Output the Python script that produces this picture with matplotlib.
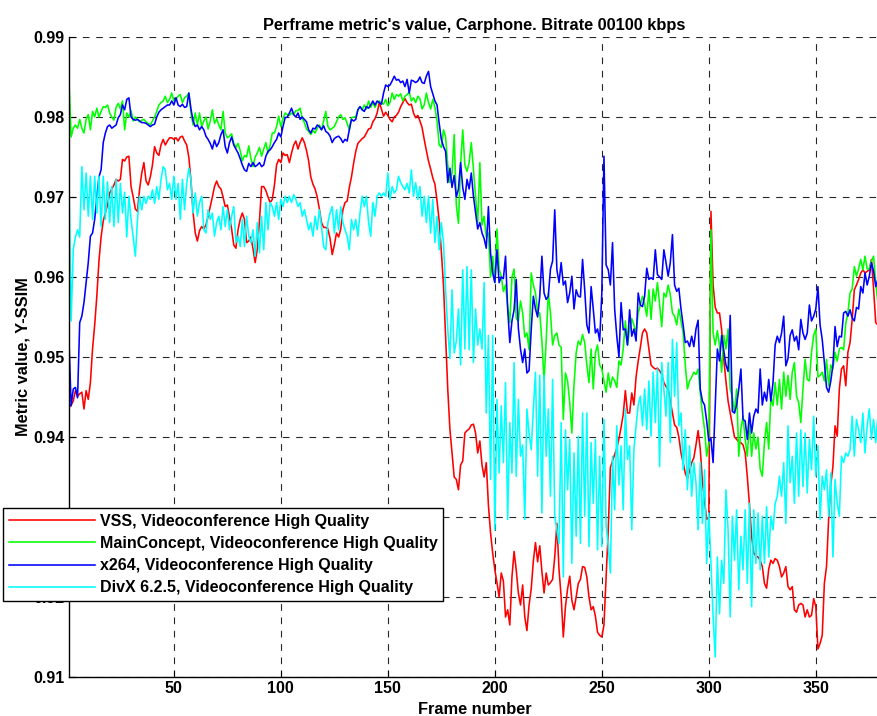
import numpy as np
import matplotlib
matplotlib.use('Agg')
import matplotlib.pyplot as plt

# per-frame Y-SSIM values, frames 1..380
vss = [
    .9437, .9440, .9445, .9458, .9451, .9454, .9456, .9435, .9458, .9447,
    .9468, .9510, .9540, .9576, .9620, .9650, .9670, .9680, .9690, .9705,
    .9710, .9715, .9722, .9720, .9722, .9747, .9745, .9750, .9751, .9713,
    .9700, .9685, .9682, .9710, .9730, .9743, .9720, .9715, .9725, .9740,
    .9763, .9755, .9752, .9765, .9772, .9765, .9770, .9774, .9774, .9772,
    .9774, .9770, .9775, .9776, .9770, .9765, .9750, .9720, .9680, .9655,
    .9645, .9658, .9663, .9660, .9665, .9676, .9688, .9700, .9713, .9720,
    .9713, .9710, .9700, .9688, .9690, .9675, .9660, .9640, .9636, .9659,
    .9672, .9680, .9672, .9643, .9645, .9650, .9635, .9618, .9635, .9670,
    .9713, .9713, .9708, .9700, .9693, .9697, .9715, .9740, .9747, .9743,
    .9755, .9752, .9753, .9743, .9755, .9765, .9770, .9760, .9768, .9774,
    .9768, .9758, .9745, .9725, .9716, .9710, .9700, .9685, .9668, .9662,
    .9662, .9660, .9648, .9628, .9640, .9655, .9650, .9660, .9684, .9693,
    .9695, .9712, .9725, .9742, .9757, .9767, .9770, .9773, .9775, .9780,
    .9785, .9786, .9794, .9798, .9805, .9818, .9810, .9801, .9806, .9802,
    .9797, .9794, .9800, .9802, .9806, .9813, .9818, .9823, .9818, .9815,
    .9816, .9805, .9799, .9802, .9795, .9787, .9772, .9758, .9745, .9735,
    .9724, .9716, .9695, .9670, .9632, .9590, .9525, .9460, .9410, .9380,
    .9350, .9347, .9334, .9365, .9370, .9405, .9408, .9410, .9415, .9416,
    .9405, .9380, .9395, .9365, .9350, .9368, .9315, .9280, .9255, .9234,
    .9218, .9200, .9230, .9220, .9175, .9184, .9165, .9225, .9257, .9234,
    .9205, .9190, .9215, .9175, .9158, .9190, .9210, .9245, .9268, .9244,
    .9264, .9232, .9205, .9230, .9215, .9218, .9222, .9250, .9292, .9234,
    .9200, .9150, .9188, .9210, .9226, .9196, .9184, .9200, .9217, .9222,
    .9238, .9237, .9225, .9200, .9184, .9188, .9176, .9156, .9152, .9150,
    .9165, .9225, .9284, .9362, .9370, .9378, .9386, .9398, .9412, .9428,
    .9458, .9430, .9430, .9455, .9440, .9475, .9495, .9512, .9530, .9535,
    .9530, .9510, .9490, .9487, .9485, .9486, .9483, .9478, .9468, .9463,
    .9460, .9445, .9430, .9415, .9412, .9400, .9380, .9368, .9355, .9348,
    .9358, .9368, .9374, .9390, .9408, .9385, .9345, .9320, .9297, .9300,
    .9682, .9590, .9562, .9555, .9555, .9534, .9497, .9470, .9445, .9430,
    .9415, .9400, .9397, .9394, .9393, .9390, .9380, .9350, .9315, .9276,
    .9255, .9251, .9250, .9246, .9238, .9217, .9211, .9235, .9246, .9242,
    .9248, .9246, .9238, .9225, .9230, .9238, .9213, .9209, .9213, .9184,
    .9181, .9190, .9192, .9190, .9175, .9184, .9175, .9177, .9198, .9188,
    .9135, .9142, .9152, .9217, .9238, .9297, .9340, .9363, .9414, .9401,
    .9460, .9485, .9489, .9464, .9506, .9518, .9547, .9584, .9590, .9597,
    .9605, .9609, .9605, .9607, .9609, .9622, .9585, .9543, .9540, .9540,
]

mainconcept = [
    .9845, .9775, .9786, .9790, .9786, .9797, .9786, .9780, .9797, .9803,
    .9784, .9807, .9800, .9811, .9800, .9807, .9813, .9812, .9815, .9805,
    .9800, .9796, .9812, .9817, .9810, .9820, .9784, .9805, .9800, .9808,
    .9795, .9800, .9797, .9794, .9796, .9797, .9794, .9792, .9790, .9795,
    .9800, .9807, .9815, .9818, .9820, .9826, .9818, .9822, .9830, .9820,
    .9822, .9826, .9828, .9818, .9824, .9826, .9830, .9805, .9790, .9805,
    .9790, .9805, .9788, .9795, .9800, .9785, .9795, .9809, .9792, .9798,
    .9790, .9784, .9807, .9780, .9774, .9776, .9779, .9767, .9762, .9767,
    .9758, .9745, .9752, .9750, .9764, .9748, .9738, .9750, .9755, .9762,
    .9751, .9760, .9768, .9755, .9765, .9780, .9780, .9788, .9801, .9788,
    .9798, .9805, .9803, .9802, .9805, .9803, .9808, .9808, .9811, .9798,
    .9793, .9785, .9782, .9778, .9783, .9780, .9786, .9790, .9784, .9795,
    .9807, .9788, .9784, .9786, .9788, .9794, .9800, .9803, .9797, .9799,
    .9792, .9784, .9799, .9800, .9800, .9809, .9813, .9809, .9815, .9810,
    .9820, .9812, .9818, .9812, .9818, .9820, .9818, .9816, .9822, .9814,
    .9818, .9830, .9822, .9828, .9826, .9829, .9820, .9826, .9828, .9831,
    .9820, .9824, .9818, .9826, .9823, .9810, .9815, .9830, .9818, .9810,
    .9822, .9812, .9795, .9765, .9762, .9784, .9775, .9740, .9718, .9730,
    .9778, .9690, .9667, .9740, .9784, .9740, .9732, .9743, .9768, .9735,
    .9700, .9668, .9743, .9665, .9676, .9650, .9655, .9600, .9626, .9593,
    .9660, .9610, .9601, .9582, .9590, .9563, .9543, .9600, .9610, .9548,
    .9545, .9570, .9555, .9525, .9530, .9509, .9605, .9590, .9580, .9555,
    .9555, .9520, .9470, .9520, .9580, .9555, .9515, .9527, .9530, .9515,
    .9512, .9422, .9480, .9470, .9443, .9405, .9465, .9505, .9520, .9515,
    .9528, .9518, .9490, .9468, .9510, .9460, .9505, .9515, .9490, .9485,
    .9470, .9456, .9480, .9462, .9475, .9470, .9462, .9495, .9490, .9510,
    .9545, .9515, .9535, .9548, .9540, .9530, .9555, .9565, .9576, .9566,
    .9551, .9584, .9547, .9585, .9570, .9593, .9565, .9538, .9580, .9575,
    .9590, .9578, .9555, .9551, .9540, .9560, .9545, .9530, .9490, .9460,
    .9470, .9475, .9481, .9478, .9485, .9455, .9430, .9410, .9376, .9393,
    .9659, .9530, .9515, .9533, .9515, .9481, .9527, .9510, .9535, .9460,
    .9450, .9430, .9460, .9376, .9410, .9426, .9397, .9376, .9420, .9376,
    .9405, .9385, .9400, .9360, .9351, .9393, .9418, .9385, .9451, .9439,
    .9468, .9440, .9472, .9435, .9481, .9451, .9477, .9447, .9481, .9493,
    .9451, .9443, .9418, .9460, .9497, .9472, .9470, .9506, .9527, .9535,
    .9475, .9477, .9481, .9470, .9497, .9464, .9490, .9485, .9506, .9495,
    .9510, .9512, .9509, .9542, .9555, .9580, .9585, .9613, .9601, .9610,
    .9622, .9609, .9626, .9610, .9610, .9620, .9626, .9593, .9568, .9595,
]

x264 = [
    .9520, .9439, .9460, .9462, .9449, .9543, .9551, .9568, .9593, .9618,
    .9651, .9655, .9672, .9700, .9725, .9734, .9768, .9780, .9788, .9790,
    .9786, .9788, .9790, .9799, .9803, .9815, .9809, .9822, .9824, .9800,
    .9797, .9796, .9797, .9795, .9793, .9793, .9792, .9790, .9788, .9790,
    .9791, .9800, .9806, .9809, .9811, .9813, .9815, .9815, .9820, .9815,
    .9824, .9815, .9813, .9816, .9812, .9813, .9830, .9810, .9795, .9788,
    .9790, .9784, .9788, .9784, .9776, .9772, .9767, .9760, .9771, .9763,
    .9768, .9778, .9784, .9763, .9755, .9768, .9775, .9765, .9760, .9755,
    .9748, .9740, .9734, .9732, .9742, .9738, .9743, .9738, .9740, .9743,
    .9738, .9740, .9751, .9757, .9759, .9763, .9768, .9772, .9780, .9775,
    .9788, .9799, .9800, .9805, .9811, .9803, .9800, .9805, .9797, .9800,
    .9797, .9794, .9784, .9780, .9786, .9785, .9790, .9788, .9784, .9789,
    .9782, .9780, .9776, .9768, .9773, .9775, .9776, .9773, .9768, .9772,
    .9770, .9784, .9797, .9795, .9797, .9809, .9813, .9809, .9807, .9813,
    .9811, .9815, .9820, .9815, .9820, .9818, .9816, .9830, .9840, .9838,
    .9840, .9845, .9851, .9846, .9847, .9843, .9845, .9838, .9847, .9830,
    .9846, .9845, .9843, .9845, .9850, .9843, .9842, .9851, .9857, .9838,
    .9829, .9820, .9815, .9792, .9772, .9763, .9757, .9718, .9736, .9712,
    .9727, .9700, .9710, .9743, .9712, .9697, .9722, .9710, .9730, .9701,
    .9680, .9660, .9668, .9655, .9648, .9636, .9688, .9630, .9605, .9593,
    .9634, .9593, .9600, .9598, .9626, .9560, .9518, .9545, .9559, .9597,
    .9536, .9510, .9493, .9510, .9480, .9483, .9534, .9576, .9560, .9550,
    .9576, .9626, .9580, .9572, .9576, .9610, .9620, .9684, .9609, .9593,
    .9618, .9590, .9595, .9568, .9580, .9601, .9560, .9584, .9576, .9575,
    .9622, .9584, .9540, .9530, .9588, .9560, .9530, .9535, .9520, .9580,
    .9751, .9615, .9609, .9590, .9643, .9560, .9526, .9500, .9568, .9534,
    .9535, .9515, .9559, .9526, .9535, .9520, .9580, .9565, .9563, .9576,
    .9611, .9597, .9599, .9597, .9634, .9603, .9600, .9597, .9634, .9618,
    .9601, .9618, .9653, .9590, .9582, .9586, .9560, .9540, .9518, .9520,
    .9513, .9526, .9513, .9535, .9546, .9460, .9445, .9440, .9420, .9395,
    .9398, .9368, .9440, .9510, .9495, .9527, .9508, .9490, .9482, .9552,
    .9432, .9430, .9440, .9460, .9485, .9422, .9420, .9397, .9430, .9405,
    .9426, .9435, .9430, .9485, .9440, .9456, .9445, .9472, .9445, .9468,
    .9515, .9526, .9518, .9530, .9551, .9489, .9498, .9527, .9534, .9520,
    .9526, .9509, .9547, .9530, .9522, .9530, .9565, .9545, .9551, .9560,
    .9588, .9540, .9522, .9493, .9462, .9456, .9470, .9490, .9538, .9513,
    .9526, .9525, .9555, .9557, .9551, .9559, .9549, .9545, .9562, .9560,
    .9588, .9580, .9605, .9590, .9601, .9618, .9607, .9588, .9597, .9590,
]

divx = [
    .9713, .9545, .9634, .9650, .9659, .9650, .9738, .9684, .9730, .9676,
    .9726, .9672, .9726, .9680, .9726, .9663, .9726, .9672, .9719, .9668,
    .9713, .9663, .9722, .9668, .9717, .9680, .9706, .9650, .9701, .9672,
    .9650, .9626, .9672, .9701, .9684, .9701, .9692, .9701, .9697, .9709,
    .9692, .9713, .9697, .9722, .9738, .9734, .9709, .9717, .9697, .9726,
    .9697, .9717, .9672, .9722, .9684, .9717, .9736, .9722, .9680, .9705,
    .9676, .9693, .9701, .9659, .9655, .9684, .9672, .9680, .9651, .9668,
    .9676, .9659, .9688, .9663, .9684, .9659, .9676, .9688, .9643, .9651,
    .9638, .9672, .9638, .9676, .9651, .9643, .9659, .9626, .9668, .9630,
    .9676, .9634, .9693, .9659, .9693, .9688, .9676, .9693, .9672, .9697,
    .9688, .9701, .9693, .9701, .9693, .9703, .9697, .9688, .9693, .9676,
    .9684, .9672, .9659, .9668, .9651, .9676, .9659, .9684, .9663, .9638,
    .9634, .9668, .9680, .9688, .9655, .9684, .9659, .9688, .9668, .9659,
    .9651, .9634, .9672, .9659, .9672, .9651, .9680, .9701, .9688, .9701,
    .9668, .9651, .9693, .9676, .9701, .9705, .9701, .9705, .9701, .9730,
    .9697, .9713, .9705, .9709, .9726, .9718, .9713, .9709, .9717, .9705,
    .9734, .9701, .9718, .9697, .9713, .9676, .9701, .9668, .9701, .9655,
    .9697, .9643, .9676, .9634, .9668, .9643, .9584, .9535, .9498, .9584,
    .9505, .9520, .9560, .9490, .9609, .9510, .9613, .9509, .9609, .9493,
    .9560, .9515, .9535, .9510, .9593, .9430, .9527, .9347, .9527, .9284,
    .9447, .9355, .9439, .9368, .9468, .9297, .9418, .9355, .9493, .9351,
    .9447, .9376, .9390, .9297, .9435, .9405, .9384, .9435, .9481, .9351,
    .9477, .9305, .9477, .9376, .9435, .9326, .9472, .9301, .9284, .9267,
    .9418, .9225, .9409, .9334, .9397, .9242, .9380, .9276, .9401, .9267,
    .9430, .9301, .9430, .9263, .9393, .9317, .9397, .9259, .9376, .9263,
    .9422, .9290, .9263, .9230, .9376, .9309, .9414, .9340, .9389, .9309,
    .9435, .9372, .9389, .9284, .9384, .9414, .9440, .9451, .9414, .9460,
    .9409, .9470, .9401, .9481, .9418, .9485, .9363, .9493, .9460, .9426,
    .9493, .9393, .9522, .9451, .9518, .9414, .9430, .9359, .9409, .9334,
    .9389, .9326, .9368, .9343, .9284, .9368, .9292, .9359, .9242, .9305,
    .9242, .9175, .9125, .9250, .9179, .9246, .9217, .9334, .9284, .9175,
    .9301, .9246, .9309, .9209, .9276, .9234, .9309, .9217, .9317, .9188,
    .9309, .9242, .9305, .9234, .9301, .9242, .9313, .9250, .9301, .9284,
    .9317, .9326, .9351, .9326, .9368, .9292, .9414, .9343, .9376, .9317,
    .9405, .9326, .9409, .9338, .9405, .9330, .9397, .9359, .9426, .9351,
    .9389, .9297, .9351, .9334, .9359, .9301, .9355, .9250, .9347, .9317,
    .9301, .9376, .9368, .9380, .9376, .9384, .9426, .9376, .9422, .9409,
    .9393, .9430, .9380, .9414, .9435, .9397, .9422, .9393, .9426, .9380,
]

labels = ['VSS, Videoconference High Quality',
          'MainConcept, Videoconference High Quality',
          'x264, Videoconference High Quality',
          'DivX 6.2.5, Videoconference High Quality']
colors = ['#ff0000', '#00ff00', '#0000ff', '#00ffff']

frames = np.arange(1, len(vss) + 1)

plt.rcParams['font.family'] = ['Liberation Sans', 'DejaVu Sans']
plt.rcParams['font.weight'] = 'bold'

fig = plt.figure(figsize=(8.77, 7.16), dpi=100)
W, H = 877.0, 716.0
ax = fig.add_axes([69 / W, 1 - 677 / H, (880 - 69) / W, (677 - 37) / H])

for ys, c, lab in zip([vss, mainconcept, x264, divx], colors, labels):
    ax.plot(frames, ys, color=c, lw=1.15, label=lab)

ax.set_xlim(1, 380)
ax.set_ylim(0.91, 0.99)
ax.set_xticks([50, 100, 150, 200, 250, 300, 350])
yt = np.arange(0.91, 0.9901, 0.01)
ax.set_yticks(yt)
ax.set_yticklabels(['%.2f' % v for v in yt])
ax.tick_params(direction='in', length=5, labelsize=11.5, width=0.8, pad=3)
for lab in ax.get_xticklabels() + ax.get_yticklabels():
    lab.set_fontweight('bold')

ax.grid(True, color='0.15', lw=0.8, dashes=(6, 6))
ax.spines['top'].set_visible(False)
ax.spines['right'].set_visible(False)
ax.spines['left'].set_linewidth(1.0)
ax.spines['bottom'].set_linewidth(1.0)

ax.set_title("Perframe metric's value, Carphone. Bitrate 00100 kbps",
             fontsize=11.8, fontweight='bold', pad=5)
ax.set_xlabel('Frame number', fontsize=11.8, fontweight='bold', labelpad=4)
ax.set_ylabel('Metric value, Y-SSIM', fontsize=11.8, fontweight='bold', labelpad=2)

leg = ax.legend(loc='upper left', bbox_to_anchor=(3 / W, 1 - 508 / H),
                bbox_transform=fig.transFigure, fontsize=11.5, frameon=True,
                fancybox=False, handlelength=5.4, handletextpad=0.3,
                borderpad=0.36, labelspacing=0.45, borderaxespad=0)
leg.get_frame().set_edgecolor('black')
leg.get_frame().set_linewidth(1.0)
leg.get_frame().set_alpha(1)
for t in leg.get_texts():
    t.set_fontweight('bold')

fig.savefig('out.png', dpi=100)
